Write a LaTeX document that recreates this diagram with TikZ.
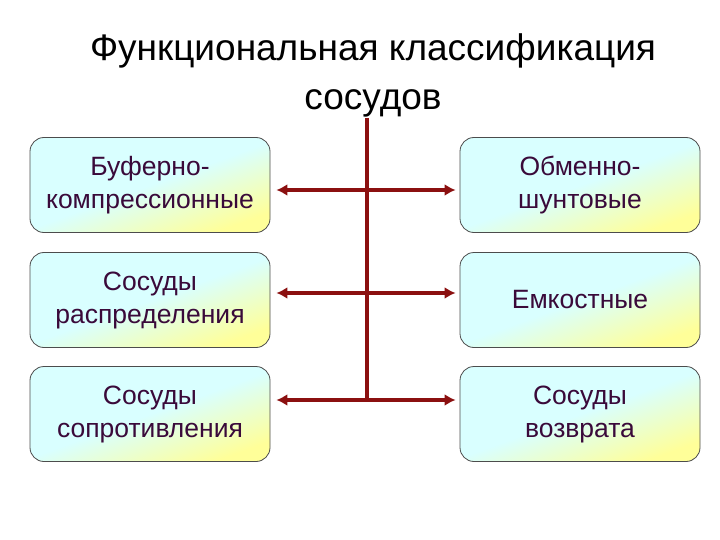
\documentclass[tikz,border=0pt]{standalone}
\usepackage{fontspec}
\setmainfont{Liberation Sans}
\usetikzlibrary{arrows.meta}
\definecolor{txt}{HTML}{3A0A3A}
\definecolor{ln}{HTML}{8B1010}
\tikzset{
 box/.style={draw=black!70, line width=0.8pt, rounded corners=14pt, minimum width=240pt, minimum height=95pt,
   align=center, font=\fontsize{26.5}{33}\selectfont, text=txt,
   top color=cyan!15, bottom color=yellow!40, middle color=cyan!15, shading angle=20},
 conn/.style={ln, line width=3.5pt},
 tip/.style={conn, {Latex[length=11pt,width=12pt]}-{Latex[length=11pt,width=12pt]}}
}
\begin{document}
\begin{tikzpicture}[x=1pt,y=-1pt]
\useasboundingbox (0,0) rectangle (720,540);
\node[font=\fontsize{37}{49}\selectfont, align=center] (title) at (373,75) {Функциональная классификация\\сосудов};
\node[box] (l1) at (150,185) {Буферно-\\компрессионные};
\node[box] (l2) at (150,300) {Сосуды\\распределения};
\node[box] (l3) at (150,414) {Сосуды\\сопротивления};
\node[box] (r1) at (580,185) {Обменно-\\шунтовые};
\node[box] (r2) at (580,300) {Емкостные};
\node[box] (r3) at (580,414) {Сосуды\\возврата};
\coordinate (top) at (367,118);
\coordinate (bot) at (367,401);
\draw[conn] (top) -- (bot);
\draw[tip] ([xshift=6pt]l1.east |- 0,190) -- ([xshift=-4pt]r1.west |- 0,190);
\draw[tip] ([xshift=6pt]l2.east |- 0,293) -- ([xshift=-4pt]r2.west |- 0,293);
\draw[tip] ([xshift=6pt]l3.east |- 0,400) -- ([xshift=-4pt]r3.west |- 0,400);
\end{tikzpicture}
\end{document}
